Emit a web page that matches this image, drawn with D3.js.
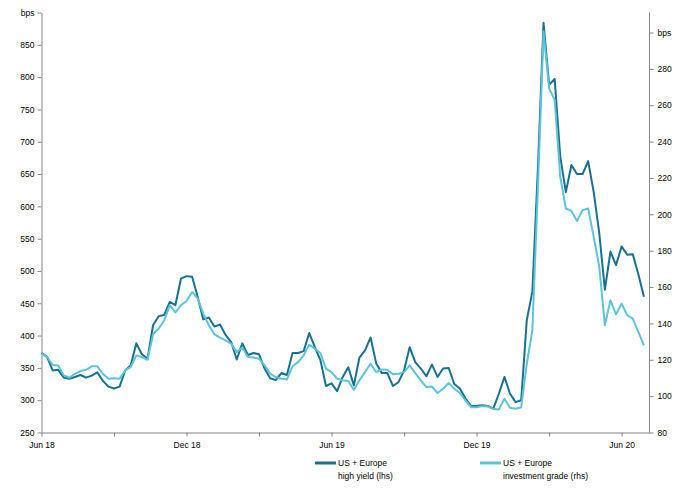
<!DOCTYPE html>
<html>
<head>
<meta charset="utf-8">
<script src="https://cdn.jsdelivr.net/npm/d3@7"></script>
<style>
  body { margin: 0; background: #fff; }
  svg text { font-family: "Liberation Sans", Arial, sans-serif; fill: #000; }
</style>
</head>
<body>
<div id="chart"></div>
<script>
  // weekly spreads, Jun 18 -> Jun 20
  var hyValues = [373, 367, 346, 347, 335, 333, 336, 339, 335, 338,
    343, 330, 321, 318, 321, 346, 354, 388, 371, 364,
    416, 430, 432, 452, 447, 488, 492, 491, 460, 425,
    428, 414, 417, 401, 390, 363, 388, 370, 373, 371,
    349, 334, 331, 342, 339, 373, 373, 376, 404, 382,
    362, 322, 326, 314, 336, 351, 323, 366, 377, 397,
    357, 342, 342, 322, 328, 346, 382, 359, 349, 337,
    355, 336, 349, 350, 325, 318, 303, 291, 291, 292,
    291, 287, 310, 336, 310, 297, 300, 424, 468, 660,
    884, 788, 797, 677, 622, 664, 650, 650, 670, 622,
    558, 471, 530, 509, 538, 525, 526, 495, 460];

  var igValues = [123.4, 121.5, 117.1, 116.9, 111.4, 110.1, 112.3, 113.8, 114.5, 116.4,
    116.4, 112.3, 109.6, 109.9, 109.6, 114.2, 116, 122.4, 121.5, 120,
    134, 137.1, 141.7, 150, 146, 150, 152.3, 157.3, 153.7, 145.4,
    139, 134, 132.2, 130.7, 128.9, 124.2, 126.7, 121.5, 121.2, 120.6,
    116.9, 112.3, 110.5, 109.6, 109.2, 116.4, 118.7, 122.4, 128.3, 126.1,
    123.7, 115.1, 113.2, 109.6, 108.7, 108.3, 103.5, 108.7, 113.2, 117.8,
    113.2, 114.7, 114.5, 112, 112.3, 113.2, 116.9, 112.7, 108.7, 105,
    105.3, 101.7, 104.1, 107.2, 104.1, 101.7, 97.6, 93.9, 93.9, 94.5,
    94.3, 93.1, 92.7, 98.6, 93.6, 93.1, 93.9, 117.8, 136.2, 215,
    300.6, 269.4, 262.9, 220.7, 203.2, 201.9, 196.4, 202.3, 203.2, 187.6,
    171.1, 139, 152.7, 145, 150.9, 144.5, 142.6, 135.3, 127.9];

  var xLabels = ["Jun 18", "Dec 18", "Jun 19", "Dec 19", "Jun 20"];
  var leftTicks = [250, 300, 350, 400, 450, 500, 550, 600, 650, 700, 750, 800, 850, 900];
  var rightTicks = [80, 100, 120, 140, 160, 180, 200, 220, 240, 260, 280, 300];
  var seriesNames = [["US + Europe", "high yield (lhs)"], ["US + Europe", "investment grade (rhs)"]];
  var colors = ["#19708f", "#5cc4d9"];

  var plotLeft = 41.5, plotRight = 649.5, plotTop = 12.5, plotBottom = 432.5;
  var axisColor = "#868686";

  var svg = d3.select("#chart")
    .append("svg")
    .attr("width", 679)
    .attr("height", 492);

  // scales
  var x = d3.scaleLinear()
    .domain([0, hyValues.length])
    .range([plotLeft, plotRight]);

  var y1 = d3.scaleLinear()
    .domain([250, 900])
    .range([plotBottom, plotTop]);

  var y2 = d3.scaleLinear()
    .domain([80, 300])
    .range([plotBottom, 32.5]);

  // X axis: minor ticks every 13 weeks, labels every 26
  var xAxis = svg.append("g")
    .attr("transform", "translate(0," + plotBottom + ")")
    .call(d3.axisBottom(x)
      .tickValues(d3.range(0, hyValues.length, 13))
      .tickSize(4)
      .tickSizeOuter(0)
      .tickPadding(5)
      .tickFormat(function (d) { return d % 26 === 0 ? xLabels[d / 26] : ""; }));

  // left axis
  var yAxisL = svg.append("g")
    .attr("transform", "translate(" + plotLeft + ",0)")
    .call(d3.axisLeft(y1)
      .tickValues(leftTicks)
      .tickSize(4)
      .tickSizeOuter(0)
      .tickPadding(3)
      .tickFormat(function (d) { return d === 900 ? "bps" : d; }));

  // right axis
  var yAxisR = svg.append("g")
    .attr("transform", "translate(" + plotRight + ",0)")
    .call(d3.axisRight(y2)
      .tickValues(rightTicks)
      .tickSize(4)
      .tickSizeOuter(0)
      .tickPadding(4)
      .tickFormat(function (d) { return d === 300 ? "bps" : d; }));
  yAxisR.select(".domain").remove();
  yAxisR.append("line")
    .attr("y1", plotTop)
    .attr("y2", plotBottom)
    .attr("stroke", axisColor);

  [xAxis, yAxisL, yAxisR].forEach(function (g) {
    g.selectAll(".domain, line").attr("stroke", axisColor);
    g.selectAll("text")
      .style("font-size", "8.5px")
      .attr("fill", "#000");
  });

  // lines
  var hyLine = d3.line()
    .x(function (d, i) { return x(i); })
    .y(function (d) { return y1(d); });

  var igLine = d3.line()
    .x(function (d, i) { return x(i); })
    .y(function (d) { return y2(d); });

  svg.append("path")
    .datum(hyValues)
    .attr("fill", "none")
    .attr("stroke", colors[0])
    .attr("stroke-width", 2)
    .attr("stroke-linejoin", "round")
    .attr("d", hyLine);

  svg.append("path")
    .datum(igValues)
    .attr("fill", "none")
    .attr("stroke", colors[1])
    .attr("stroke-width", 2)
    .attr("stroke-linejoin", "round")
    .attr("d", igLine);

  // legend
  var legendX = [315, 480];
  seriesNames.forEach(function (name, i) {
    var g = svg.append("g")
      .attr("transform", "translate(" + legendX[i] + ",463)");
    g.append("line")
      .attr("x1", 0)
      .attr("x2", 21)
      .attr("stroke", colors[i])
      .attr("stroke-width", 3);
    g.selectAll("text")
      .data(name)
      .enter()
      .append("text")
      .attr("x", 23)
      .attr("y", function (d, j) { return 3 + j * 12.5; })
      .style("font-size", "8.5px")
      .text(function (d) { return d; });
  });
</script>
</body>
</html>
